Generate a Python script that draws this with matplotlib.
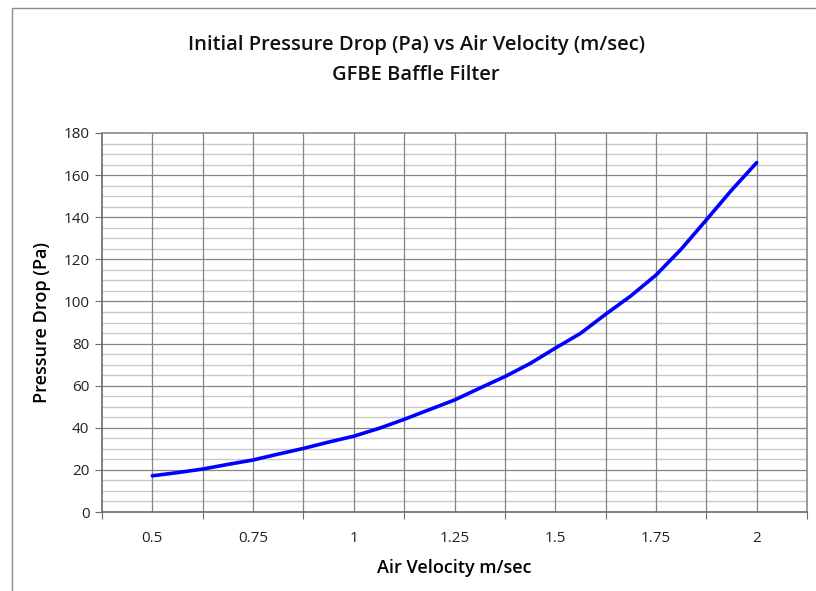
import matplotlib
matplotlib.use("Agg")
import matplotlib.pyplot as plt
from matplotlib.patches import Rectangle
import numpy as np

velocity = [0.5, 0.5625, 0.625, 0.6875, 0.75, 0.8125, 0.875, 0.9375, 1.0,
            1.0625, 1.125, 1.1875, 1.25, 1.3125, 1.375, 1.4375, 1.5,
            1.5625, 1.625, 1.6875, 1.75, 1.8125, 1.875, 1.9375, 2.0]
pressure = [17.2, 18.7, 20.4, 22.6, 24.7, 27.5, 30.2, 33.2, 36.0,
            39.7, 44.0, 48.6, 53.2, 58.8, 64.3, 70.5, 77.8,
            84.8, 93.9, 102.6, 112.5, 124.8, 138.7, 152.8, 165.9]
x_tick_labels = ["0.5", "0.75", "1", "1.25", "1.5", "1.75", "2"]
x_tick_values = [0.5, 0.75, 1.0, 1.25, 1.5, 1.75, 2.0]

plt.rcParams['font.family'] = ['Open Sans', 'DejaVu Sans']

fig = plt.figure(figsize=(8.16, 5.91), dpi=100)
fig.patch.set_facecolor('white')

# outer chart frame
fig.patches.append(Rectangle((12/816, -0.05), 1.0, 1 - 8/591 + 0.05,
                             transform=fig.transFigure, fill=False,
                             edgecolor='#8c8c8c', linewidth=1.0))

ax = fig.add_axes([102/816, 1 - 512/591, (807-102)/816, (512-133)/591])
ax.set_xlim(0.375, 2.125)
ax.set_ylim(0, 180)

# gridlines
for v in np.arange(0, 181, 5):
    if v % 20 == 0:
        continue
    ax.axhline(v, color='#c8c8c8', linewidth=1.0, zorder=1)
for v in np.arange(20, 180, 20):
    ax.axhline(v, color='#858585', linewidth=0.9, zorder=1.5)
for v in np.arange(0.5, 2.125, 0.125):
    ax.axvline(v, color='#858585', linewidth=0.9, zorder=1.5)

ax.plot(velocity, pressure, color='#0000ff', linewidth=2.6, zorder=3,
        solid_capstyle='round', solid_joinstyle='round')

for s in ax.spines.values():
    s.set_color('#8a8a8a')
    s.set_linewidth(1.2)
ax.spines['left'].set_color('#6a6a6a')
ax.spines['bottom'].set_color('#6a6a6a')

ax.set_yticks(np.arange(0, 181, 20))
ax.set_yticklabels([str(v) for v in range(0, 181, 20)])
ax.set_xticks(np.arange(0.375, 2.126, 0.25))
ax.set_xticklabels([])
ax.set_xticks(x_tick_values, minor=True)
ax.set_xticklabels(x_tick_labels, minor=True)
ax.tick_params(axis='x', which='major', length=5, color='#6a6a6a', direction='out')
ax.tick_params(axis='x', which='minor', length=0, pad=14, labelsize=11, labelcolor='#222222')
ax.tick_params(axis='y', length=5, color='#6a6a6a', direction='out', pad=4,
               labelsize=11, labelcolor='#222222')

ax.set_xlabel('Air Velocity m/sec', fontsize=13, fontweight='semibold', labelpad=9)
ax.set_ylabel('Pressure Drop (Pa)', fontsize=13, fontweight='semibold', labelpad=9)

fig.text(416/816, 1 - 45/591, 'Initial Pressure Drop (Pa) vs Air Velocity (m/sec)',
         ha='center', va='center', fontsize=14.5, fontweight='semibold', color='#111111')
fig.text(416/816, 1 - 75/591, 'GFBE Baffle Filter',
         ha='center', va='center', fontsize=14.5, fontweight='semibold', color='#111111')

fig.savefig('out.png', dpi=100)
